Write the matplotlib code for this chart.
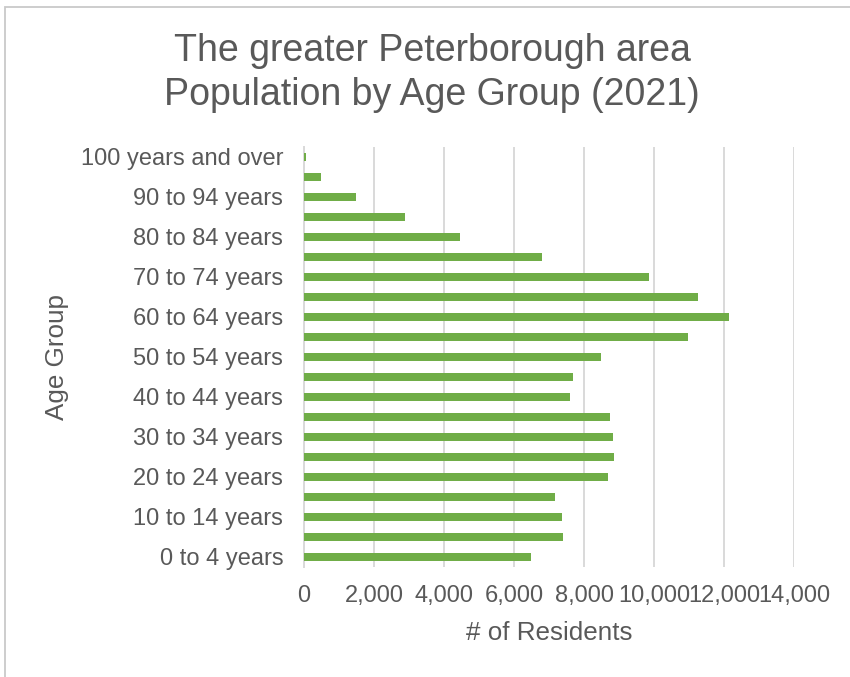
import matplotlib
matplotlib.use("Agg")
import matplotlib.pyplot as plt
from matplotlib.patches import Rectangle
from matplotlib.ticker import FuncFormatter

plt.rcParams['font.family'] = ['Liberation Sans', 'DejaVu Sans']

age_groups = [
    "0 to 4 years", "5 to 9 years", "10 to 14 years", "15 to 19 years",
    "20 to 24 years", "25 to 29 years", "30 to 34 years", "35 to 39 years",
    "40 to 44 years", "45 to 49 years", "50 to 54 years", "55 to 59 years",
    "60 to 64 years", "65 to 69 years", "70 to 74 years", "75 to 79 years",
    "80 to 84 years", "85 to 89 years", "90 to 94 years", "95 to 99 years",
    "100 years and over",
]
residents = [
    6475, 7400, 7370, 7160, 8685, 8855, 8830, 8735, 7590, 7685,
    8475, 10980, 12150, 11245, 9865, 6810, 4450, 2895, 1490, 475, 60,
]
x_ticks = [0, 2000, 4000, 6000, 8000, 10000, 12000, 14000]

title = "The greater Peterborough area\nPopulation by Age Group (2021)"
x_label = "# of Residents"
y_label = "Age Group"

text_color = "#595959"
bar_color = "#70AD47"
grid_color = "#D9D9D9"

W, H = 850, 677
fig = plt.figure(figsize=(W / 100, H / 100), dpi=100)

# chart border (partially visible as in reference)
fig.patches.append(Rectangle((5 / W, -0.05), 1.2, 1 - 7 / H + 0.05,
                             transform=fig.transFigure, fill=False,
                             edgecolor="#C9C9C9", linewidth=1.3, zorder=0))

left, right, top, bottom = 304, 794, 147, 567
ax = fig.add_axes([left / W, 1 - bottom / H, (right - left) / W, (bottom - top) / H])

positions = list(range(len(age_groups)))
ax.barh(positions, residents, height=0.4, color=bar_color, zorder=3)

ax.set_xlim(0, 14000)
ax.set_ylim(-0.5, len(age_groups) - 0.5)
ax.set_xticks(x_ticks)
ax.xaxis.set_major_formatter(FuncFormatter(lambda v, p: f"{int(v):,}"))
ax.set_yticks(positions[::2])
ax.set_yticklabels(age_groups[::2])

ax.grid(axis="x", color=grid_color, linewidth=1.4, zorder=0)
ax.set_axisbelow(True)
for s in ["top", "right", "bottom"]:
    ax.spines[s].set_visible(False)
ax.spines["left"].set_color(grid_color)
ax.spines["left"].set_linewidth(1.4)

ax.tick_params(axis="both", length=0, labelsize=17, labelcolor=text_color)
ax.tick_params(axis="x", pad=13)
ax.tick_params(axis="y", pad=15)

fig.text(432 / W, 1 - 73 / H, title, ha="center", va="center",
         fontsize=27, color=text_color, linespacing=1.3)
fig.text((left + right) / 2 / W, 1 - 633 / H, x_label, ha="center", va="center",
         fontsize=18.7, color=text_color)
fig.text(57 / W, 1 - 357 / H, y_label, ha="center", va="center",
         fontsize=18.7, color=text_color, rotation=90)

fig.savefig("out.png", dpi=100, facecolor="white")
